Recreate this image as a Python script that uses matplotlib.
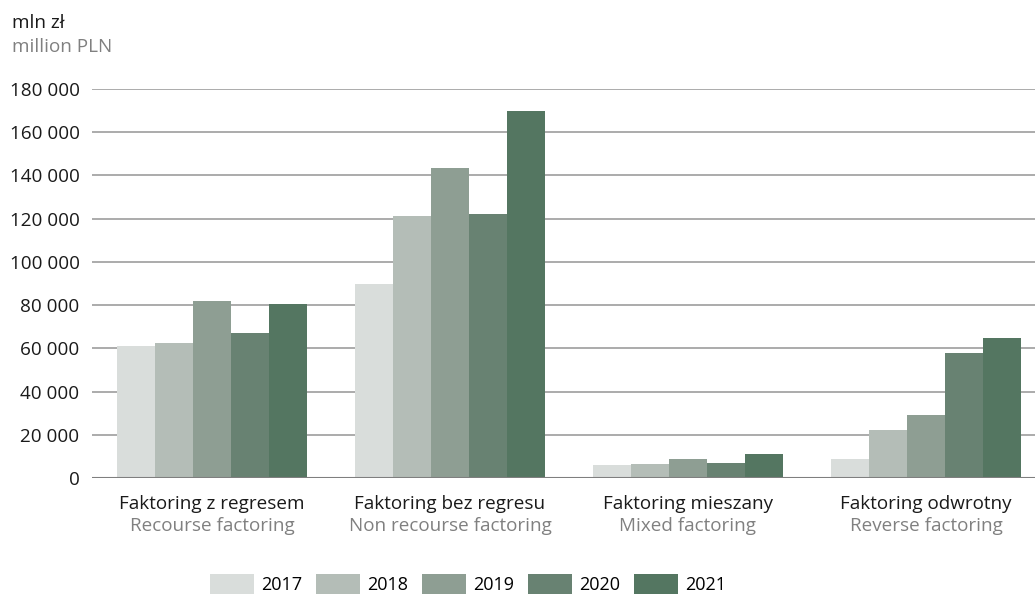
import matplotlib
matplotlib.use("Agg")
import matplotlib.pyplot as plt
import numpy as np
from matplotlib.ticker import FuncFormatter

plt.rcParams['font.family'] = ['Open Sans', 'DejaVu Sans']

years = ['2017', '2018', '2019', '2020', '2021']
categories_pl = ['Faktoring z regresem', 'Faktoring bez regresu', 'Faktoring mieszany', 'Faktoring odwrotny']
categories_en = ['Recourse factoring', 'Non recourse factoring', 'Mixed factoring', 'Reverse factoring']

# values in million PLN, one list per year (order follows categories)
v2017 = [61200, 89900, 6000, 9000]
v2018 = [62600, 121400, 6600, 22300]
v2019 = [81700, 143600, 9000, 29300]
v2020 = [67200, 122300, 7100, 58000]
v2021 = [80700, 170000, 11300, 64900]
values = [v2017, v2018, v2019, v2020, v2021]

colors = ['#d9dddb', '#b4bdb7', '#8e9e93', '#688272', '#547661']
yticks = [0, 20000, 40000, 60000, 80000, 100000, 120000, 140000, 160000, 180000]

FS = 13.6

fig = plt.figure(figsize=(10.35, 5.95), dpi=100)
ax = fig.add_axes([92 / 1035, 117 / 595, 1 - 92 / 1035, 389 / 595])

x = np.arange(len(categories_pl))
w = 0.16
bars = []
for i, (yr, vals) in enumerate(zip(years, values)):
    b = ax.bar(x + (i - 2) * w, vals, width=w, color=colors[i], label=yr, zorder=3, linewidth=0)
    bars.append(b)

ax.set_xlim(-0.504, 3.458)
ax.set_ylim(0, 180000)
ax.set_yticks(yticks)
ax.yaxis.set_major_formatter(FuncFormatter(lambda v, p: f"{int(v):,}".replace(",", " ")))
ax.tick_params(axis='y', length=0, pad=9, labelsize=FS, labelcolor='#1a1a1a')
ax.set_xticks([])
for s in ax.spines.values():
    s.set_visible(False)

for t in yticks[1:]:
    ax.axhline(t, color='#9d9d9d', lw=1.2, zorder=1)
ax.axhline(0, color='#7f7f7f', lw=1.5, zorder=4)

# two-line category labels under the groups
trans = ax.get_xaxis_transform()
for xi, pl, en in zip(x, categories_pl, categories_en):
    ax.text(xi, -31 / 389, pl, transform=trans, ha='center', va='baseline',
            fontsize=FS, color='#1a1a1a')
    ax.text(xi, -53 / 389, en, transform=trans, ha='center', va='baseline',
            fontsize=FS, color='#808080')

fig.text(12 / 1035, 1 - 28 / 595, 'mln zł', fontsize=FS, color='#1a1a1a', va='baseline', ha='left')
fig.text(12 / 1035, 1 - 52 / 595, 'million PLN', fontsize=FS, color='#808080', va='baseline', ha='left')

fig.legend(handles=bars, labels=years, loc='center', bbox_to_anchor=(468 / 1035, 11 / 595),
           ncol=5, frameon=False, fontsize=13, handlelength=2.44, handleheight=1.28,
           handletextpad=0.39, columnspacing=0.78, borderpad=0, borderaxespad=0)

fig.savefig('out.png', dpi=100)
